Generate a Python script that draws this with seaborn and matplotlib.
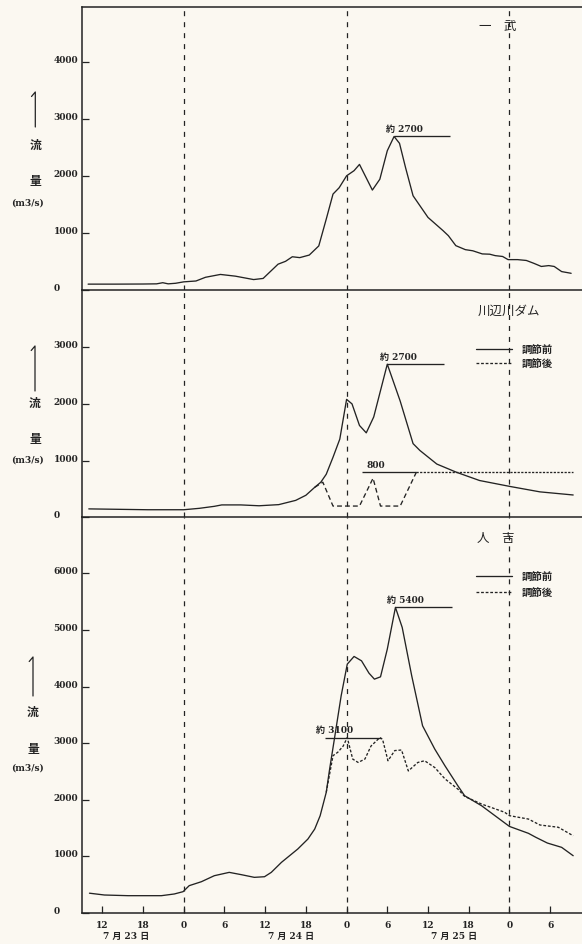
import matplotlib
matplotlib.use("Agg")
import matplotlib.pyplot as plt
from matplotlib.lines import Line2D
import pandas as pd
import seaborn as sns

# Time axis: hours counted from 7/23 0:00
# 一武 (discharge, m3/s)
ichibu_t = [9.9, 14, 18, 20, 20.9, 21.7, 22.8, 24, 25.8, 27.2, 29.4, 31.6, 34.3, 35.7,
            37.9, 39.0, 40.0, 41.1, 42.5, 43.9, 45.0, 46.0, 46.9, 48.0, 49.1, 49.9,
            51.8, 52.9, 54.0, 55.0, 55.8, 56.7, 57.8, 60.0, 62.2, 63.0, 64.1, 65.5,
            66.6, 68.0, 69.1, 69.9, 71.0, 71.8, 73.2, 74.5, 75.6, 76.7, 77.8, 78.6,
            79.7, 81.1]
ichibu_q = [110, 110, 112, 115, 135, 115, 125, 150, 165, 230, 280, 250, 190, 210,
            460, 510, 590, 575, 620, 780, 1250, 1690, 1800, 2010, 2100, 2210,
            1760, 1950, 2450, 2700, 2580, 2150, 1660, 1280, 1050, 960, 785, 715,
            695, 640, 635, 610, 595, 540, 540, 525, 475, 420, 435, 420,
            330, 300]

# 川辺川ダム: inflow before regulation
dam_t = [10, 18.7, 24, 26.3, 28.5, 29.6, 32.4, 35.1, 38.0, 40.5, 42.0, 43.3, 44.2,
         45.0, 46.0, 47.0, 47.6, 48.0, 48.8, 49.9, 50.9, 52.0, 54.0, 55.9, 57.8,
         58.8, 61.3, 64.2, 67.6, 72.1, 76.5, 81.4]
dam_q = [150, 135, 135, 160, 195, 220, 220, 205, 225, 300, 390, 530, 620,
         760, 1060, 1380, 1800, 2080, 2000, 1620, 1490, 1770, 2700, 2050, 1300,
         1180, 940, 795, 650, 545, 450, 395]
# 川辺川ダム: outflow after regulation
dam_reg_t = [43.3, 44.5, 46.0, 49.9, 51.9, 53.0, 55.9, 58.3, 81.4]
dam_reg_q = [530, 620, 200, 200, 690, 200, 200, 800, 800]

# 人吉: before regulation
hito_t = [10.1, 12.3, 15.8, 20.7, 22.6, 23.9, 24.8, 26.6, 28.5, 30.7, 32.5, 34.4,
          35.9, 36.9, 38.4, 40.8, 42.3, 43.3, 44.1, 45.0, 45.5, 46.2, 47.2, 48.1,
          49.1, 50.2, 51.3, 52.1, 53.0, 54.0, 55.2, 56.2, 57.6, 59.2, 61.0, 62.5,
          64.4, 65.4, 67.9, 72.0, 74.8, 75.9, 77.6, 79.7, 81.4]
hito_q = [350, 318, 306, 306, 336, 377, 483, 553, 659, 718, 677, 630,
          641, 718, 895, 1130, 1307, 1483, 1718, 2131, 2543, 3073, 3838, 4397,
          4533, 4456, 4238, 4132, 4173, 4662, 5400, 5045, 4191, 3308, 2896, 2601,
          2248, 2072, 1895, 1530, 1408, 1337, 1236, 1160, 1012]
# 人吉: after regulation
hito_reg_t = [45.0, 46.0, 46.7, 47.5, 48.1, 48.9, 49.7, 50.7, 51.6, 52.9, 53.3, 54.1,
              55.1, 56.1, 57.1, 58.5, 59.5, 61.0, 62.5, 64.4, 65.4, 67.9, 71.3, 72.0,
              74.8, 76.5, 79.2, 81.4]
hito_reg_q = [2131, 2780, 2840, 2950, 3100, 2720, 2660, 2720, 2950, 3100, 3070, 2690,
              2870, 2880, 2510, 2660, 2690, 2570, 2370, 2190, 2060, 1925, 1780, 1720,
              1660, 1555, 1515, 1365]

# Peak annotations
ichibu_peak = 2700
dam_peak = 2700
dam_release = 800
hito_peak = 5400
hito_reg_peak = 3100

day_lines = [24, 48, 72]
x_ticks = [12, 18, 24, 30, 36, 42, 48, 54, 60, 66, 72, 78]
x_tick_labels = ["12", "18", "0", "6", "12", "18", "0", "6", "12", "18", "0", "6"]
date_labels = ["7 月 23 日", "7 月 24 日", "7 月 25 日"]
date_pos = [15.5, 39.8, 63.8]
legend_labels = ["調節前", "調節後"]

sns.set_theme(style="white")
CJK = ["Noto Sans CJK JP", "DejaVu Sans"]
plt.rcParams["font.family"] = ["DejaVu Serif", "Noto Sans CJK JP"]
plt.rcParams["lines.scale_dashes"] = False

INK = "#232323"
BG = "#FBF8F1"
W, H = 582, 945

fig = plt.figure(figsize=(W / 100, H / 100), dpi=100, facecolor=BG)


def add_panel(top, bottom, left=82, right=582):
    ax = fig.add_axes([left / W, 1 - bottom / H, (right - left) / W, (bottom - top) / H])
    ax.set_facecolor("none")
    for side in ["left", "top", "bottom"]:
        ax.spines[side].set_visible(True)
        ax.spines[side].set_color(INK)
        ax.spines[side].set_linewidth(1.1)
    ax.spines["right"].set_visible(False)
    ax.set_xlim(9.0, 82.7)
    return ax


ax1 = add_panel(7.5, 291.4)
ax2 = add_panel(291.4, 518.4)
ax3 = add_panel(518.4, 914.0)
ax2.spines["top"].set_visible(False)
ax3.spines["top"].set_visible(False)

ax1.set_ylim(0, 4980)
ax2.set_ylim(0, 4000)
ax3.set_ylim(0, 6990)

yticks = {ax1: [0, 1000, 2000, 3000, 4000],
          ax2: [0, 1000, 2000, 3000],
          ax3: [0, 1000, 2000, 3000, 4000, 5000, 6000]}
for ax, ticks in yticks.items():
    ax.set_yticks(ticks)
    ax.set_yticklabels([str(v) for v in ticks])
    ax.tick_params(axis="y", direction="in", length=5, width=0.9, color=INK,
                   pad=20.5, labelsize=6.5, labelcolor=INK, left=True)
    for lab in ax.get_yticklabels():
        lab.set_horizontalalignment("left")
        lab.set_verticalalignment("baseline")
        lab.set_fontweight("bold")

for ax in (ax1, ax2):
    ax.set_xticks([])

ax3.set_xticks(x_ticks)
ax3.set_xticklabels(x_tick_labels)
ax3.tick_params(axis="x", direction="in", length=5, width=0.9, color=INK,
                pad=5, labelsize=6.5, labelcolor=INK, bottom=True)
for lab in ax3.get_xticklabels():
    lab.set_fontweight("bold")
ax3.set_xlim(9.0, 82.7)

# Day boundaries
for ax in (ax1, ax2, ax3):
    for t in day_lines:
        ax.axvline(t, color=INK, lw=0.9, ls=(0, (3.6, 4.3)), zorder=1)

# Discharge curves
lw = 0.95
df1 = pd.DataFrame({"t": ichibu_t, "q": ichibu_q})
sns.lineplot(data=df1, x="t", y="q", ax=ax1, color=INK, lw=lw, estimator=None, sort=False)

df2 = pd.DataFrame({"t": dam_t, "q": dam_q})
sns.lineplot(data=df2, x="t", y="q", ax=ax2, color=INK, lw=lw, estimator=None, sort=False)
df2b = pd.DataFrame({"t": dam_reg_t, "q": dam_reg_q})
sns.lineplot(data=df2b.iloc[:8], x="t", y="q", ax=ax2, color=INK, lw=lw,
             estimator=None, sort=False, linestyle=(0, (3.5, 2.2)))
sns.lineplot(data=df2b.iloc[7:], x="t", y="q", ax=ax2, color=INK, lw=lw,
             estimator=None, sort=False, linestyle=(0, (1.6, 1.0)))

df3 = pd.DataFrame({"t": hito_t, "q": hito_q})
sns.lineplot(data=df3, x="t", y="q", ax=ax3, color=INK, lw=lw, estimator=None, sort=False)
df3b = pd.DataFrame({"t": hito_reg_t, "q": hito_reg_q})
sns.lineplot(data=df3b, x="t", y="q", ax=ax3, color=INK, lw=lw, estimator=None,
             sort=False, linestyle=(0, (2.0, 1.3)))

for ax in (ax1, ax2, ax3):
    ax.set_xlabel("")
    ax.set_ylabel("")

# Peak markers
ann_kw = dict(textcoords="offset points", ha="left", va="bottom", fontsize=6.5,
              fontweight="bold", color=INK)
ax1.hlines(ichibu_peak, 55.0, 63.3, color=INK, lw=lw)
ax1.annotate(f"約 {ichibu_peak}", xy=(53.8, ichibu_peak), xytext=(0, 2.5), **ann_kw)

ax2.hlines(dam_peak, 54.0, 62.4, color=INK, lw=lw)
ax2.annotate(f"約 {dam_peak}", xy=(52.9, dam_peak), xytext=(0, 2.5), **ann_kw)
ax2.hlines(dam_release, 50.2, 58.3, color=INK, lw=lw)
ax2.annotate(f"{dam_release}", xy=(50.9, dam_release), xytext=(0, 2.5), **ann_kw)

ax3.hlines(hito_peak, 55.2, 63.5, color=INK, lw=lw)
ax3.annotate(f"約 {hito_peak}", xy=(54.0, hito_peak), xytext=(0, 2.5), **ann_kw)
ax3.hlines(hito_reg_peak, 44.8, 53.1, color=INK, lw=lw)
ax3.annotate(f"約 {hito_reg_peak}", xy=(43.5, hito_reg_peak), xytext=(0, 2.5), **ann_kw)

# Station names
ax1.text(0.832, 0.932, "一　武", transform=ax1.transAxes, ha="center", va="center",
         fontsize=9, family=CJK, color=INK)
ax2.text(0.853, 0.914, "川辺川ダム", transform=ax2.transAxes, ha="center", va="center",
         fontsize=9, family=CJK, color=INK)
ax3.text(0.827, 0.950, "人　吉", transform=ax3.transAxes, ha="center", va="center",
         fontsize=9, family=CJK, color=INK)

# Legends
handles = [Line2D([], [], color=INK, lw=lw),
           Line2D([], [], color=INK, lw=lw, ls=(0, (2.0, 1.3)))]
leg_kw = dict(frameon=False, handlelength=3.45, handletextpad=0.9,
              borderpad=0, borderaxespad=0, loc="upper left",
              prop={"family": CJK, "size": 7.5, "weight": "bold"})
leg2 = ax2.legend(handles, legend_labels, bbox_to_anchor=(0.788, 0.762),
                  labelspacing=0.42, **leg_kw)
leg3 = ax3.legend(handles, legend_labels, bbox_to_anchor=(0.788, 0.863),
                  labelspacing=0.55, **leg_kw)
for leg in (leg2, leg3):
    for txt in leg.get_texts():
        txt.set_color(INK)

# Date labels under the time axis
for pos, lab in zip(date_pos, date_labels):
    ax3.text(pos, -0.058, lab, transform=ax3.get_xaxis_transform(), ha="center",
             va="center", fontsize=6.5, fontweight="bold", color=INK)


# Vertical axis captions: ↑ 流 量 (m3/s)
def fx(x):
    return x / W


def fy(y):
    return 1 - y / H


def caption(x, y_top, y_bot, y_ryu, y_ryo, y_unit):
    fig.add_artist(Line2D([fx(x - 3.8), fx(x), fx(x)],
                          [fy(y_top + 4.5), fy(y_top), fy(y_bot)],
                          color=INK, lw=0.9, transform=fig.transFigure))
    fig.text(fx(x), fy(y_ryu), "流", ha="center", va="center", fontsize=8.5,
             fontweight="bold", family=CJK, color=INK)
    fig.text(fx(x), fy(y_ryo), "量", ha="center", va="center", fontsize=8.5,
             fontweight="bold", family=CJK, color=INK)
    fig.text(fx(27.5), fy(y_unit), "(m3/s)", ha="center", va="center", fontsize=6.5,
             fontweight="bold", color=INK)


caption(35.3, 93, 128, 145, 182, 203)
caption(35.0, 347, 392, 403, 440, 460)
caption(33.0, 658, 697, 712, 749, 768)

fig.savefig("out.png", dpi=100, facecolor=BG)
